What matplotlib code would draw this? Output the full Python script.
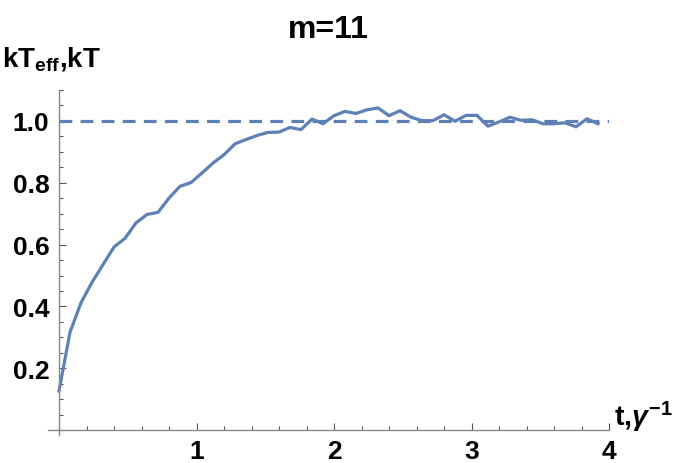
import numpy as np
import matplotlib
matplotlib.use('Agg')
import matplotlib.pyplot as plt
from matplotlib.ticker import MultipleLocator

# effective temperature vs time, sampled every 0.08 / gamma
t = np.arange(50) * 0.08
kT_eff = [0.127, 0.317, 0.412, 0.478, 0.535, 0.592, 0.620, 0.670, 0.697, 0.704,
          0.750, 0.788, 0.800, 0.831, 0.863, 0.890, 0.925, 0.939, 0.952, 0.962,
          0.963, 0.978, 0.971, 1.005, 0.990, 1.016, 1.030, 1.023, 1.035, 1.041,
          1.016, 1.032, 1.011, 1.000, 1.000, 1.019, 0.998, 1.017, 1.017, 0.982,
          0.996, 1.011, 1.001, 1.003, 0.990, 0.990, 0.993, 0.980, 1.006, 0.990]
kT = 1.0
x_ticks = [1, 2, 3, 4]
y_ticks = [0.2, 0.4, 0.6, 0.8, 1.0]

color = '#5E81B5'
plt.rcParams['font.family'] = ['Liberation Sans', 'DejaVu Sans']
plt.rcParams['font.weight'] = 'bold'
plt.rcParams['mathtext.fontset'] = 'custom'
plt.rcParams['mathtext.rm'] = 'Liberation Sans:bold'
plt.rcParams['mathtext.bf'] = 'Liberation Sans:bold'
plt.rcParams['mathtext.it'] = 'Liberation Sans:italic:bold'

fig = plt.figure(figsize=(6.8, 4.64), dpi=100)
ax = fig.add_axes([0.0706, 0.0603, 0.8250, 0.7443])

ax.plot(t, kT_eff, color=color, lw=2.3)
ax.plot([0, 4], [kT, kT], color=color, lw=2.3, dashes=(4, 2.6))

ax.set_xlim(-0.08, 4.0)
ax.set_ylim(-0.015, 1.1)

for s in ['top', 'right']:
    ax.spines[s].set_visible(False)
ax.spines['left'].set_position(('data', 0))
ax.spines['bottom'].set_position(('data', 0))
for s in ['left', 'bottom']:
    ax.spines[s].set_color('#888888')
    ax.spines[s].set_linewidth(1.0)

ax.set_xticks(x_ticks)
ax.set_yticks(y_ticks)
ax.set_yticklabels(['%.1f' % v for v in y_ticks])
ax.xaxis.set_minor_locator(MultipleLocator(0.2))
ax.yaxis.set_minor_locator(MultipleLocator(0.05))
ax.tick_params(which='both', direction='in', color='#555555', labelsize=19, width=0.8)
ax.tick_params(which='major', length=5)
ax.tick_params(which='minor', length=3)
ax.tick_params(axis='x', pad=6)
ax.tick_params(axis='y', pad=7)

ax.set_title('m=11', fontsize=23, fontweight='bold', pad=38)
fig.text(0.003, 0.856, r'$\mathrm{kT_{eff}{,}kT}$', fontsize=20, ha='left', va='baseline')
fig.text(0.903, 0.082, r'$\mathrm{t{,}}\gamma^{\mathrm{-1}}$', fontsize=20.5, ha='left', va='baseline')

fig.savefig('out.png', dpi=100)
